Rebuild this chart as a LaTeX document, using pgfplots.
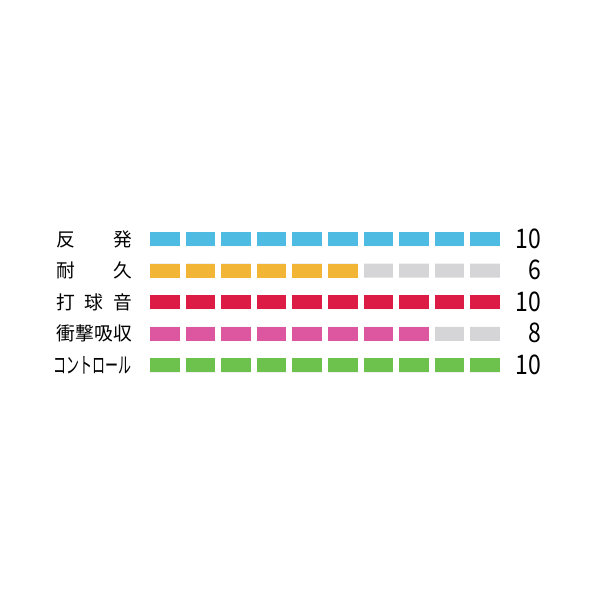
\documentclass[border=0pt]{standalone}
\usepackage{fontspec}
\setmainfont{Noto Sans CJK JP}
\usepackage{graphicx}
\usepackage{pgfplots}
\pgfplotsset{compat=1.18}

\definecolor{cBlue}{HTML}{4EBBE3}
\definecolor{cOrange}{HTML}{F2B535}
\definecolor{cRed}{HTML}{DC1C44}
\definecolor{cPink}{HTML}{DC56A0}
\definecolor{cGreen}{HTML}{6CC24C}
\definecolor{cGray}{HTML}{D5D5D7}

\newcommand{\lbl}{\fontsize{18.75}{20}\selectfont}
\newcommand{\num}{\fontsize{27}{28}\selectfont}

\begin{document}
\begin{tikzpicture}
\useasboundingbox (0,0) rectangle (600pt,-600pt);
\begin{axis}[
  at={(147pt,-381.2pt)}, anchor=south west,
  scale only axis, width=356pt, height=158pt,
  xbar,
  xmin=0, xmax=10, ymin=0.5, ymax=5.5, y dir=reverse,
  xtick={0,...,10}, xticklabels={}, xmajorgrids,
  major grid style={white, line width=6pt},
  ytick={1,...,5},
  yticklabels={
    \makebox[4em][s]{反\hfill 発},
    \makebox[4em][s]{耐\hfill 久},
    \makebox[4em][s]{打\hfill 球\hfill 音},
    \makebox[4em][s]{衝撃吸収},
    \scalebox{0.59}[1]{\fontsize{22}{22}\selectfont コントロール}},
  yticklabel style={anchor=east, inner sep=0pt, xshift=-15pt, font=\lbl},
  axis line style={draw=none}, major tick length=0pt,
  axis on top,
  seg/.style={draw=none, bar width=14pt, bar shift=0pt},
]
% background (empty) segments, with the score written at the right
\addplot[seg, fill=cGray, point meta=explicit symbolic,
  nodes near coords={\scalebox{0.85}[1]{\pgfplotspointmeta}},
  every node near coord/.style={anchor=east, inner sep=0pt, xshift=38pt, yshift=0.5pt, font=\num, text=black}]
  coordinates {(10,1) [10] (10,2) [6] (10,3) [10] (10,4) [8] (10,5) [10]};
% scores
\addplot[seg, fill=cBlue]   coordinates {(10,1)};
\addplot[seg, fill=cOrange] coordinates {(6,2)};
\addplot[seg, fill=cRed]    coordinates {(10,3)};
\addplot[seg, fill=cPink]   coordinates {(8,4)};
\addplot[seg, fill=cGreen]  coordinates {(10,5)};
\end{axis}
\end{tikzpicture}
\end{document}
